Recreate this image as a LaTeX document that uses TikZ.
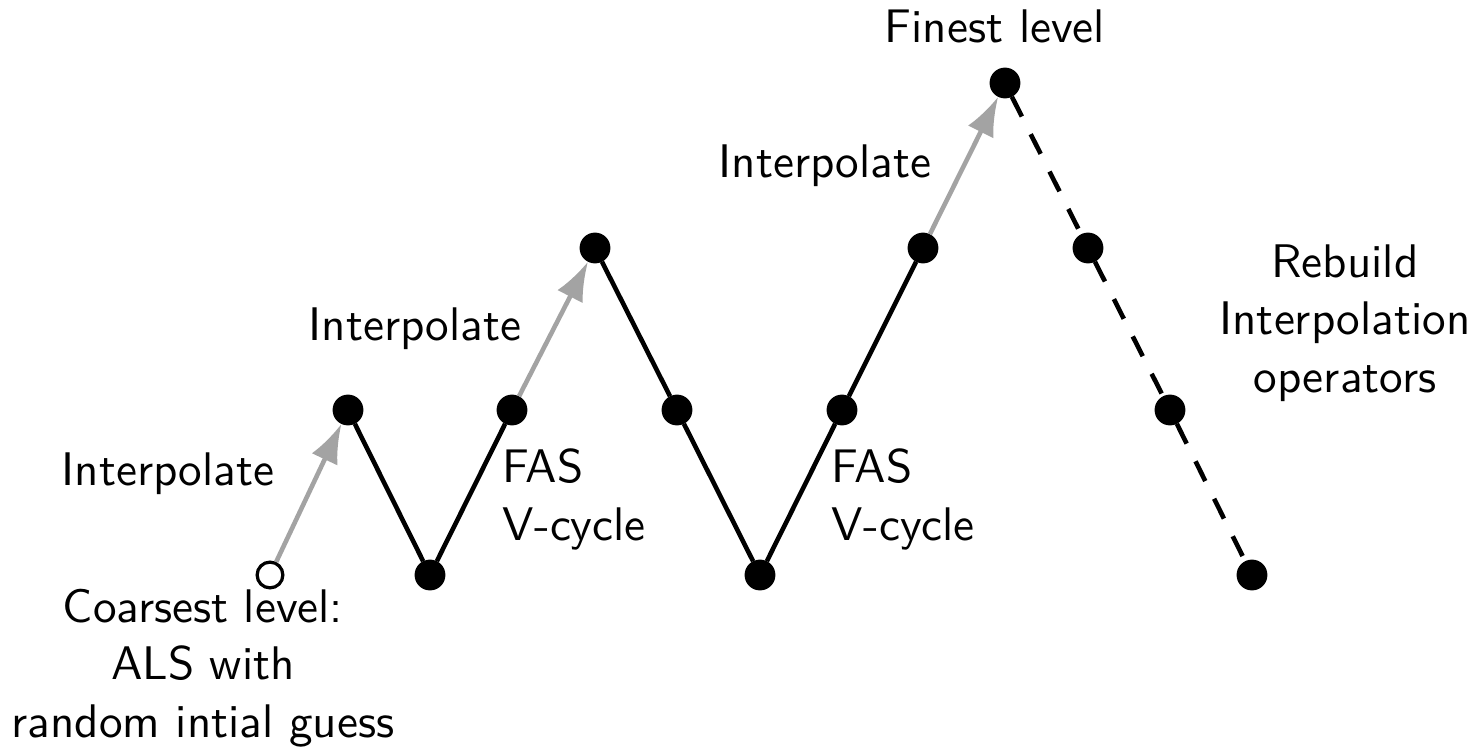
\documentclass[tikz,border=0pt]{standalone}
\usetikzlibrary{arrows.meta}
\begin{document}
\begin{tikzpicture}[x=0.2174pt,y=-0.2174pt,
  font=\sffamily\fontsize{10.25}{12.4}\selectfont,
  dot/.style={circle,fill=black,draw=black,inner sep=0pt,minimum size=6.3pt},
  opendot/.style={circle,fill=white,draw=black,line width=0.7pt,inner sep=0pt,minimum size=5.6pt},
  solidline/.style={line width=1pt,black},
  dashline/.style={line width=1pt,black,dash pattern=on 4.8pt off 4.3pt},
  interp/.style={line width=1pt,color=black!36,-{Latex[length=8.5pt,width=6.2pt]}},
  lbl/.style={inner sep=0pt,anchor=base}
]
\useasboundingbox (0,0) rectangle (1481,752);
% nodes
\node[opendot] (c0) at (270,575) {};
\node[dot] (a1) at (348,410) {};
\node[dot] (b1) at (430,575) {};
\node[dot] (a2) at (512,410) {};
\node[dot] (a3) at (595,248) {};
\node[dot] (b2) at (677,410) {};
\node[dot] (b3) at (760,575) {};
\node[dot] (a4) at (842,410) {};
\node[dot] (a5) at (923,248) {};
\node[dot] (f) at (1005,83) {};
\node[dot] (d1) at (1088,248) {};
\node[dot] (d2) at (1170,410) {};
\node[dot] (d3) at (1252,575) {};
% connectors
\draw[interp] (c0) -- (a1);
\draw[solidline] (a1) -- (b1) -- (a2);
\draw[interp] (a2) -- (a3);
\draw[solidline] (a3) -- (b2) -- (b3) -- (a4) -- (a5);
\draw[interp] (a5) -- (f);
\draw[dashline] (f) -- (d1) -- (d2) -- (d3);
% labels
\node[lbl] (t1) at (168,485) {Interpolate};
\node[lbl] (t2) at (415,340) {Interpolate};
\node[lbl] (t3) at (825,177) {Interpolate};
\node[lbl] (t4) at (995,42) {Finest level};
\node[lbl,anchor=base west,align=left] (t5) at (502,540) {FAS\\V-cycle};
\node[lbl,anchor=base west,align=left] (t6) at (831,540) {FAS\\V-cycle};
\node[lbl,align=center] (t7) at (1345,392) {Rebuild\\Interpolation\\operators};
\node[lbl,align=center] (t8) at (203,737) {Coarsest level:\\ALS with\\random intial guess};
\end{tikzpicture}
\end{document}
